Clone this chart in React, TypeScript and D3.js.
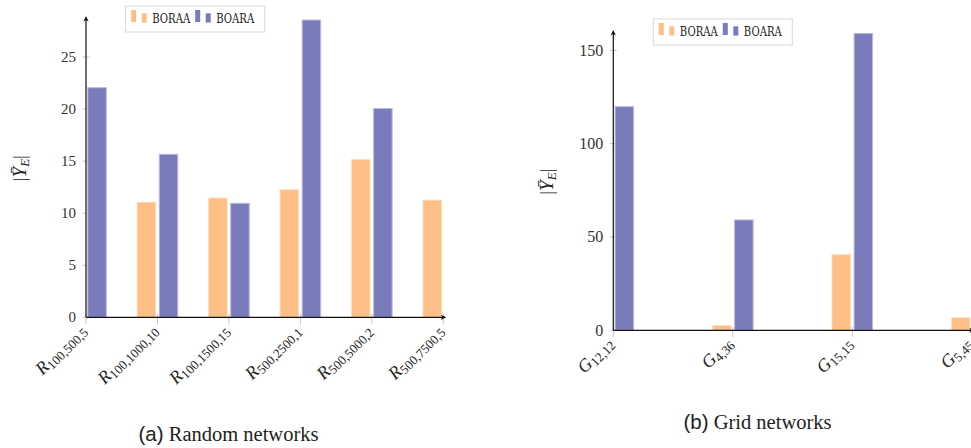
import React from "react";
import * as d3 from "d3";

// Random networks: R_{n,m,k}
const randomCategories = ["100,500,5", "100,1000,10", "100,1500,15", "500,2500,1", "500,5000,2", "500,7500,5"];
const randomBoraa: (number | null)[] = [null, 11.1, 11.5, 12.3, 15.2, 11.3];
const randomBoara: (number | null)[] = [22.1, 15.7, 11.0, 28.6, 20.1, null];
const randomTicks = [0, 5, 10, 15, 20, 25];

// Grid networks: G_{r,c}
const gridCategories = ["12,12", "4,36", "15,15", "5,45"];
const gridBoraa: (number | null)[] = [null, 2.8, 40.8, 7.0];
const gridBoara: (number | null)[] = [120.1, 59.4, 159.3, null];
const gridTicks = [0, 50, 100, 150];

const seriesNames = ["BORAA", "BOARA"];
const ORANGE = "#fdbf85";
const ORANGE_EDGE = "#fedcbc";
const PURPLE = "#7a7bba";
const PURPLE_EDGE = "#b9badc";
const TICK_GREY = "#c6c6c6";
const SERIF = "'Liberation Serif', 'DejaVu Serif', serif";
const SLAB = "'DejaVu Serif', serif";
const SANS = "'Liberation Sans', Arial, sans-serif";

type PanelProps = {
  id: string;
  prefix: string;
  categories: string[];
  boraa: (number | null)[];
  boara: (number | null)[];
  ticks: number[];
  yMax: number;
  left: number;
  right: number;
  top: number;
  bottom: number;
  tickFont: number;
  legendX: number;
  legendY: number;
  caption: [string, string];
  captionX: number;
  captionY: number;
  labelX: number;
};

function Legend({ x, y }: { x: number; y: number }) {
  const entries = [
    { name: seriesNames[0], color: ORANGE },
    { name: seriesNames[1], color: PURPLE },
  ];
  return (
    <g transform={`translate(${x},${y})`}>
      <rect x={0} y={0} width={139} height={26} fill="white" stroke="#d9d9d9" strokeWidth={1} />
      {entries.map((e, i) => {
        const ox = 5.5 + i * 64;
        return (
          <g key={e.name} transform={`translate(${ox},0)`}>
            <rect x={0} y={4} width={5} height={12} fill={e.color} />
            <rect x={10.5} y={7.3} width={5} height={9.3} fill={e.color} />
            <text
              x={21}
              y={17}
              fontFamily={SLAB}
              fontSize={12.5}
              fill="#222"
              textLength={38}
              lengthAdjust="spacingAndGlyphs"
            >
              {e.name}
            </text>
          </g>
        );
      })}
    </g>
  );
}

function Panel(p: PanelProps) {
  const x = d3.scalePoint<string>().domain(p.categories).range([p.left, p.right]);
  const y = d3.scaleLinear().domain([0, p.yMax]).range([p.bottom, p.top]);
  const barW = 19.5;
  const gap = 1.3;
  const clipId = `clip-${p.id}`;

  const bars: { key: string; x0: number; v: number; fill: string; edge: string }[] = [];
  p.categories.forEach((c, i) => {
    const cx = x(c) as number;
    const a = p.boraa[i];
    const b = p.boara[i];
    if (a != null) bars.push({ key: `a${i}`, x0: cx - gap - barW, v: a, fill: ORANGE, edge: ORANGE_EDGE });
    if (b != null) bars.push({ key: `b${i}`, x0: cx + gap, v: b, fill: PURPLE, edge: PURPLE_EDGE });
  });

  return (
    <g>
      <defs>
        <clipPath id={clipId}>
          <rect x={p.left} y={p.top - 2} width={p.right - p.left} height={p.bottom - p.top + 2} />
        </clipPath>
      </defs>

      {/* y tick marks and labels */}
      {p.ticks.map((t) => (
        <g key={`yt${t}`}>
          <line x1={p.left - 3.5} x2={p.left + 3.5} y1={y(t)} y2={y(t)} stroke={TICK_GREY} strokeWidth={1} />
          <text
            x={p.left - 10}
            y={y(t) + p.tickFont * 0.33}
            textAnchor="end"
            fontFamily={SERIF}
            fontSize={p.tickFont}
            fill="#333"
          >
            {t}
          </text>
        </g>
      ))}

      {/* x tick marks */}
      {p.categories.map((c) => (
        <line key={`xt${c}`} x1={x(c)} x2={x(c)} y1={p.bottom - 3.5} y2={p.bottom + 7} stroke={TICK_GREY} strokeWidth={1} />
      ))}

      {/* bars */}
      <g clipPath={`url(#${clipId})`}>
        {bars.map((b) => (
          <rect
            key={b.key}
            x={b.x0 + 0.5}
            y={y(b.v) + 0.5}
            width={barW - 1}
            height={y(0) - y(b.v) - 0.5}
            fill={b.fill}
            stroke={b.edge}
            strokeWidth={1}
          />
        ))}
      </g>

      {/* axes with arrow heads */}
      <line x1={p.left} x2={p.left} y1={p.bottom} y2={p.top - 1} stroke="#111" strokeWidth={1.2} />
      <line x1={p.left} x2={p.right + 1} y1={p.bottom} y2={p.bottom} stroke="#111" strokeWidth={1.2} />
      <path
        d={`M${p.left},${p.top - 3} L${p.left - 2.6},${p.top + 2.5} L${p.left},${p.top + 1} L${p.left + 2.6},${p.top + 2.5} Z`}
        fill="#111"
      />
      <path
        d={`M${p.right + 3},${p.bottom} L${p.right - 2.5},${p.bottom - 2.6} L${p.right - 1},${p.bottom} L${p.right - 2.5},${p.bottom + 2.6} Z`}
        fill="#111"
      />

      {/* rotated category labels */}
      {p.categories.map((c) => {
        const cx = x(c) as number;
        return (
          <text
            key={`xl${c}`}
            transform={`translate(${cx + 1},${p.bottom + 14}) rotate(-45)`}
            textAnchor="end"
            fontFamily={SERIF}
            fill="#222"
          >
            <tspan fontStyle="italic" fontSize={18}>
              {p.prefix}
            </tspan>
            <tspan fontSize={13} dy={3}>
              {c}
            </tspan>
          </text>
        );
      })}

      {/* y-axis title */}
      <text
        transform={`translate(${p.labelX},${(p.top + p.bottom) / 2}) rotate(-90)`}
        textAnchor="middle"
        fontFamily={SERIF}
        fontSize={19}
        fill="#222"
      >
        <tspan>|</tspan>
        <tspan fontStyle="italic">Ȳ</tspan>
        <tspan fontStyle="italic" fontSize={13} dy={3}>
          E
        </tspan>
        <tspan dy={-3}>|</tspan>
      </text>

      <Legend x={p.legendX} y={p.legendY} />

      {/* caption */}
      <text x={p.captionX} y={p.captionY} textAnchor="middle" fontSize={20.5} fill="#222">
        <tspan fontFamily={SANS}>{p.caption[0]}</tspan>
        <tspan fontFamily={SERIF}> {p.caption[1]}</tspan>
      </text>
    </g>
  );
}

export default function App() {
  return (
    <svg
      width={971}
      height={448}
      viewBox="0 0 971 448"
      style={{ position: "absolute", left: 0, top: 0, background: "white" }}
    >
      <rect width={971} height={448} fill="white" />
      <Panel
        id="random"
        prefix="R"
        categories={randomCategories}
        boraa={randomBoraa}
        boara={randomBoara}
        ticks={randomTicks}
        yMax={28.65}
        left={86}
        right={443.3}
        top={19}
        bottom={317.3}
        tickFont={15}
        legendX={125.7}
        legendY={6}
        caption={["(a)", "Random networks"]}
        captionX={228.5}
        captionY={441}
        labelX={26}
      />
      <Panel
        id="grid"
        prefix="G"
        categories={gridCategories}
        boraa={gridBoraa}
        boara={gridBoara}
        ticks={gridTicks}
        yMax={159.3}
        left={613.3}
        right={971.8}
        top={33}
        bottom={330.3}
        tickFont={16}
        legendX={653.3}
        legendY={19}
        caption={["(b)", "Grid networks"]}
        captionX={757.5}
        captionY={428.5}
        labelX={553}
      />
    </svg>
  );
}
